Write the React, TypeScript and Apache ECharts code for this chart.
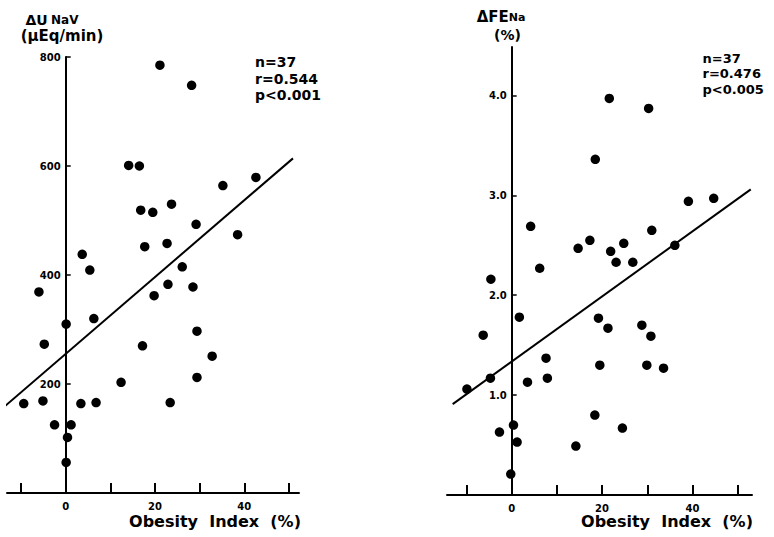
import React, { useEffect, useRef } from 'react';
import * as echarts from 'echarts';

// Tick positions and labelled values
const obesityTicks = [-10, 0, 10, 20, 30, 40, 50];
const obesityLabels = [0, 20, 40];
const unavTicks = [200, 400, 600, 800];
const fenaTicks = [1, 2, 3, 4];

// ΔUNaV (μEq/min) against obesity index (%)
const unavPoints: [number, number][] = [
  [21.1, 785], [28.2, 748], [14.1, 601], [16.5, 600], [35.2, 564], [42.6, 579],
  [16.8, 519], [19.5, 515], [23.7, 530], [29.2, 493], [38.5, 474], [17.7, 452],
  [22.7, 458], [3.7, 438], [5.4, 409], [26.1, 415], [-6.0, 369], [22.9, 383],
  [19.8, 362], [28.5, 378], [0.1, 310], [6.3, 320], [29.4, 297], [-4.8, 273],
  [17.2, 270], [32.8, 251], [12.4, 203], [29.4, 212], [-9.4, 164], [-5.1, 169],
  [3.4, 164], [6.8, 166], [23.4, 166], [-2.5, 125], [1.2, 125], [0.4, 102],
  [0.1, 56],
];

// ΔFENa (%) against obesity index (%)
const fenaPoints: [number, number][] = [
  [21.6, 3.97], [30.3, 3.87], [18.5, 3.36], [39.1, 2.94], [44.7, 2.97], [4.2, 2.69],
  [31.0, 2.65], [14.7, 2.47], [17.3, 2.55], [21.9, 2.44], [24.8, 2.52], [36.1, 2.5],
  [23.1, 2.33], [26.8, 2.33], [6.2, 2.27], [-4.6, 2.16], [1.7, 1.78], [19.2, 1.77],
  [21.3, 1.67], [28.8, 1.7], [30.8, 1.59], [-6.3, 1.6], [7.6, 1.37], [19.5, 1.3],
  [29.9, 1.3], [33.6, 1.27], [-4.7, 1.17], [7.9, 1.17], [3.5, 1.13], [-9.9, 1.06],
  [18.4, 0.8], [24.5, 0.67], [0.4, 0.7], [-2.7, 0.63], [1.2, 0.53], [14.2, 0.49],
  [-0.2, 0.21],
];

// Regression line end points
const unavFit: [number, number][] = [[-13.6, 159.5], [50.9, 614]];
const fenaFit: [number, number][] = [[-13.05, 0.91], [52.9, 3.06]];

const unavStats = ['n=37', 'r=0.544', 'p<0.001'];
const fenaStats = ['n=37', 'r=0.476', 'p<0.005'];

const FAMILY = '"DejaVu Sans", "Liberation Sans", sans-serif';
const INK = '#000';

// Plot frames: the y axis stands at obesity index 0, inside the frame
const leftFrame = { left: 7, top: 57, width: 292, height: 436, xMin: -13.15, xMax: 52.25 };
const rightFrame = { left: 447, top: 47, width: 305, height: 448, xMin: -14.31, xMax: 53.17 };

function zeroOffset(f: typeof leftFrame) {
  return (-f.xMin / (f.xMax - f.xMin)) * f.width;
}

function xAxisFor(gridIndex: number, f: typeof leftFrame) {
  return {
    type: 'value',
    gridIndex,
    min: f.xMin,
    max: f.xMax,
    axisLine: { show: true, onZero: false, lineStyle: { color: INK, width: 2 } },
    axisTick: {
      show: true,
      inside: true,
      length: 10,
      customValues: obesityTicks,
      lineStyle: { color: INK, width: 2 },
    },
    axisLabel: {
      show: true,
      customValues: obesityLabels,
      margin: 8,
      color: INK,
      fontFamily: FAMILY,
      fontWeight: 'bold',
      fontSize: 10,
    },
    splitLine: { show: false },
  };
}

function yAxisFor(
  gridIndex: number,
  f: typeof leftFrame,
  max: number,
  ticks: number[],
  fmt: (v: number) => string
) {
  return {
    type: 'value',
    gridIndex,
    position: 'left',
    offset: -zeroOffset(f),
    min: 0,
    max,
    axisLine: { show: true, onZero: false, lineStyle: { color: INK, width: 2 } },
    axisTick: {
      show: true,
      inside: true,
      length: 5,
      customValues: ticks,
      lineStyle: { color: INK, width: 1.5 },
    },
    axisLabel: {
      show: true,
      customValues: ticks,
      margin: 5,
      color: INK,
      fontFamily: FAMILY,
      fontWeight: 'bold',
      fontSize: 10,
      formatter: (v: number) => fmt(v),
    },
    splitLine: { show: false },
  };
}

// Statistics block as one multi-line text
function statBlock(lines: string[], x: number, top: number, size: number, lineHeight: number) {
  return {
    type: 'text',
    x,
    y: top,
    style: {
      text: lines.join('\n'),
      fill: INK,
      fontFamily: FAMILY,
      fontWeight: 'bold',
      fontSize: size,
      lineHeight,
      align: 'left',
      verticalAlign: 'top',
    },
  };
}

function plainText(text: string, x: number, y: number, size: number) {
  return {
    type: 'text',
    x,
    y,
    style: {
      text,
      fill: INK,
      fontFamily: FAMILY,
      fontWeight: 'bold',
      fontSize: size,
      align: 'center',
      verticalAlign: 'middle',
    },
  };
}

export default function App() {
  const ref = useRef<HTMLDivElement | null>(null);

  useEffect(() => {
    if (!ref.current) return;
    const chart = echarts.init(ref.current, null, { renderer: 'svg' });

    const scatterStyle = {
      type: 'scatter',
      symbol: 'circle',
      symbolSize: 9.5,
      itemStyle: { color: INK, opacity: 1 },
      emphasis: { disabled: true },
      silent: true,
    };
    const fitStyle = {
      type: 'line',
      showSymbol: false,
      clip: false,
      lineStyle: { color: INK, width: 2 },
      emphasis: { disabled: true },
      silent: true,
    };

    const frameGrid = (f: typeof leftFrame) => ({
      left: f.left,
      top: f.top,
      width: f.width,
      height: f.height,
      containLabel: false,
      outerBoundsMode: 'none',
    });

    chart.setOption({
      animation: false,
      backgroundColor: '#fff',
      grid: [frameGrid(leftFrame), frameGrid(rightFrame)],
      xAxis: [xAxisFor(0, leftFrame), xAxisFor(1, rightFrame)],
      yAxis: [
        yAxisFor(0, leftFrame, 800, unavTicks, (v) => String(v)),
        yAxisFor(1, rightFrame, 4.485, fenaTicks, (v) => v.toFixed(1)),
      ],
      series: [
        { ...scatterStyle, name: 'ΔUNaV', xAxisIndex: 0, yAxisIndex: 0, data: unavPoints },
        { ...fitStyle, name: 'ΔUNaV fit', xAxisIndex: 0, yAxisIndex: 0, data: unavFit },
        { ...scatterStyle, name: 'ΔFENa', xAxisIndex: 1, yAxisIndex: 1, data: fenaPoints },
        { ...fitStyle, name: 'ΔFENa fit', xAxisIndex: 1, yAxisIndex: 1, data: fenaFit },
      ],
      graphic: [
        {
          type: 'text',
          x: 52,
          y: 19,
          style: {
            text: '{a|ΔU} {b|NaV}',
            fill: INK,
            align: 'center',
            verticalAlign: 'middle',
            rich: {
              a: { fontFamily: FAMILY, fontWeight: 'bold', fontSize: 14, lineHeight: 15, verticalAlign: 'bottom' },
              b: {
                fontFamily: FAMILY,
                fontWeight: 'bold',
                fontSize: 12,
                lineHeight: 13,
                verticalAlign: 'bottom',
                padding: [0, 0, 1, 0],
              },
            },
          },
        },
        plainText('(μEq/min)', 62, 36, 15),
        {
          type: 'text',
          x: 501,
          y: 16,
          style: {
            text: '{a|ΔFE}{b|Na}',
            fill: INK,
            align: 'center',
            verticalAlign: 'middle',
            rich: {
              a: { fontFamily: FAMILY, fontWeight: 'bold', fontSize: 15, lineHeight: 16, verticalAlign: 'bottom' },
              b: {
                fontFamily: FAMILY,
                fontWeight: 'bold',
                fontSize: 11,
                lineHeight: 12,
                verticalAlign: 'bottom',
                padding: [0, 0, 1, 0],
              },
            },
          },
        },
        plainText('(%)', 507.5, 35, 14),
        plainText('Obesity  Index  (%)', 215, 521.5, 16),
        plainText('Obesity  Index  (%)', 667, 521.5, 16),
        statBlock(unavStats, 255, 54, 14, 16.4),
        statBlock(fenaStats, 702.5, 51, 13, 15.2),
      ],
    });

    return () => chart.dispose();
  }, []);

  return (
    <div
      ref={ref}
      style={{ position: 'absolute', left: 0, top: 0, width: 774, height: 537, background: '#fff' }}
    />
  );
}
